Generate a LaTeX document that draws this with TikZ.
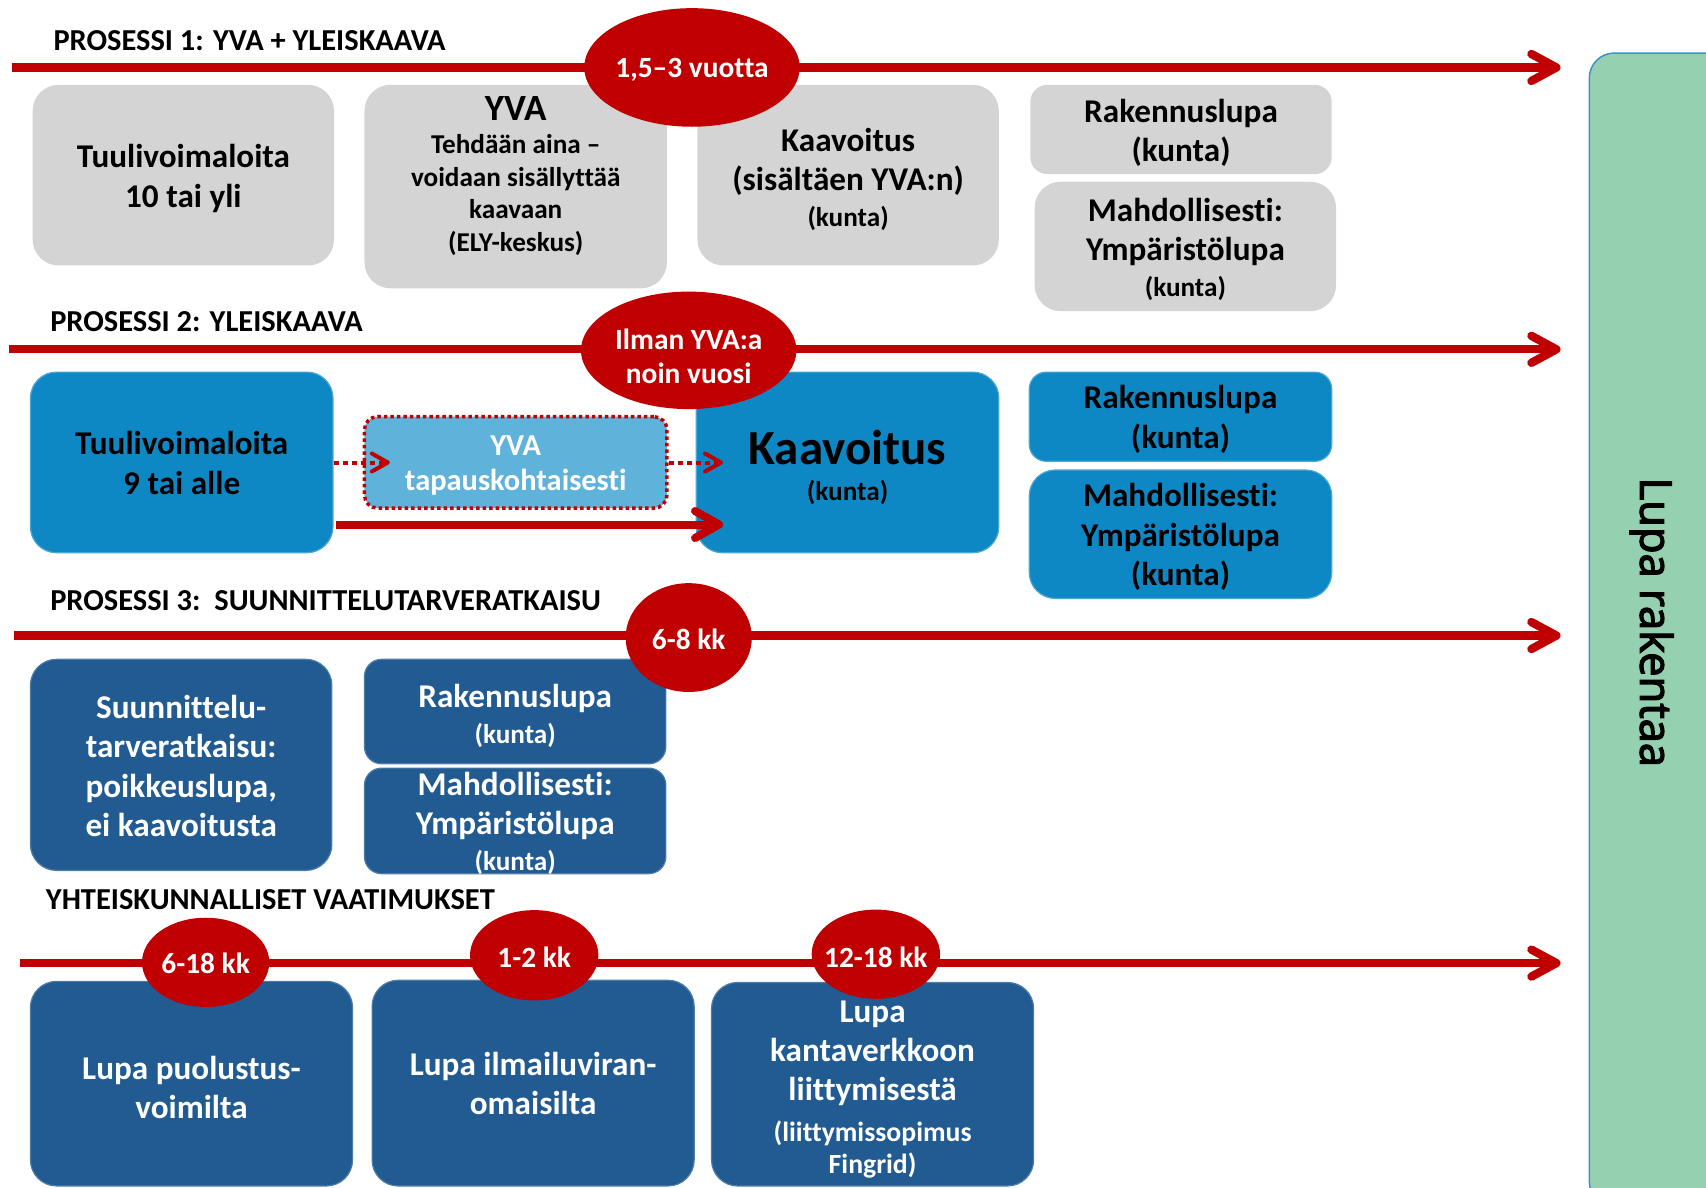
\documentclass[tikz,border=0pt]{standalone}
\usepackage{fontspec}
\setmainfont{Carlito}[Ligatures={NoCommon,NoRare,NoContextual}]
\newfontfamily\lupafont{Open Sans}[FakeBold=3]
\usetikzlibrary{arrows.meta,shapes.geometric}
\definecolor{myred}{HTML}{C00000}
\definecolor{mygray}{HTML}{D4D4D4}
\definecolor{mblue}{HTML}{0D88C4}
\definecolor{lblue}{HTML}{5FB3DB}
\definecolor{dblue}{HTML}{215B92}
\definecolor{mygreen}{HTML}{95D1B0}
\definecolor{gborder}{HTML}{3D93C6}
\newcommand\fsz[2]{\fontsize{#1}{#2}\selectfont}
\tikzset{
  anybox/.style={rectangle, rounded corners=26pt, inner sep=0pt},
  graybox/.style={anybox, fill=mygray},
  mbox/.style={anybox, fill=mblue, draw=mblue!75!white, line width=1.2pt},
  dbox/.style={anybox, fill=dblue, draw=dblue!80!white, line width=1.2pt},
  smallr/.style={rounded corners=17pt},
  txt/.style={align=center, inner sep=0pt, font=\bfseries\fsz{30.5}{36}},
  wtxt/.style={txt, text=white},
  redell/.style={ellipse, fill=myred, inner sep=0pt},
  elltxt/.style={align=center, inner sep=0pt, text=white, font=\bfseries\fsz{27}{32}},
  title/.style={anchor=base west, inner sep=0pt, font=\bfseries\fsz{28}{32}},
  timeline/.style={draw=myred, line width=8.3pt,
    -{Straight Barb[length=25pt,width=27pt,round]}},
  dotarrow/.style={draw=myred, line width=4pt, dash pattern=on 5pt off 4pt,
    -{Straight Barb[length=16pt,width=18pt,round]}},
  solidarrow/.style={draw=myred, line width=8pt,
    -{Straight Barb[length=24pt,width=27pt,round]}},
}
\begin{document}
\begin{tikzpicture}[x=1pt,y=-1pt,scale=1.088,every node/.style={transform shape}]
\useasboundingbox (0,0) rectangle (1568,1091);
\clip (0,0) rectangle (1568,1091);

% green final box
\node[rectangle, rounded corners=25pt, fill=mygreen, draw=gborder, line width=1.5pt,
  minimum width=220, minimum height=1060, anchor=north west, inner sep=0pt] (green) at (1460,48) {};
\node[rotate=-90, font=\lupafont\fsz{40}{48}, inner sep=0pt] (lupa) at (1518,572) {Lupa rakentaa};

% timelines
\coordinate (l1s) at (11,62);   \coordinate (l1e) at (1434,62);
\coordinate (l2s) at (8,321);   \coordinate (l2e) at (1434,321);
\coordinate (l3s) at (13,584);  \coordinate (l3e) at (1434,584);
\coordinate (l4s) at (18,885);  \coordinate (l4e) at (1434,885);
\draw[timeline] (l1s) -- (l1e);
\draw[timeline] (l2s) -- (l2e);
\draw[timeline] (l3s) -- (l3e);
\draw[timeline] (l4s) -- (l4e);

% titles
\node[title] (t1) at (49,46) {PROSESSI 1: YVA + YLEISKAAVA};
\node[title] (t2) at (46,305) {PROSESSI 2: YLEISKAAVA};
\node[title] (t3) at (46,561) {PROSESSI 3:\ \ SUUNNITTELUTARVERATKAISU};
\node[title] (t4) at (42,836) {YHTEISKUNNALLISET VAATIMUKSET};

% row 1
\node[graybox, minimum width=277, minimum height=166] (b11) at (168.5,161) {};
\node[txt] (b11t) at (168.5,164) {Tuulivoimaloita\\10 tai yli};
\node[graybox, minimum width=278, minimum height=187] (b12) at (474,171.5) {};
\node[txt, font=\bfseries\fsz{25}{30}] (b12t) at (474,162)
  {{\fsz{34}{38}YVA}\\Tehdään aina –\\voidaan sisällyttää\\kaavaan\\(ELY-keskus)};
\node[graybox, minimum width=277, minimum height=166] (b13) at (779.5,161) {};
\node[txt] (b13t) at (779.5,165)
  {Kaavoitus\\(sisältäen YVA:n)\\[-3pt]{\fsz{25}{30}(kunta)}};
\node[graybox, smallr, minimum width=277, minimum height=82] (b14) at (1085.5,119) {};
\node[txt] (b14t) at (1085.5,122) {Rakennuslupa\\(kunta)};
\node[graybox, minimum width=277, minimum height=119] (b15) at (1089.5,226.5) {};
\node[txt] (b15t) at (1089.5,229)
  {Mahdollisesti:\\Ympäristölupa\\[-3pt]{\fsz{25}{30}(kunta)}};
\node[redell, minimum width=198, minimum height=109] (e1) at (636,62) {};
\node[elltxt] (e1t) at (636,64) {1,5–3 vuotta};

% row 2
\node[mbox, minimum width=278, minimum height=166] (b21) at (167,425) {};
\node[txt] (b21t) at (167,425.5) {Tuulivoimaloita\\9 tai alle};
\node[rectangle, rounded corners=13pt, fill=lblue, draw=myred, line width=3.5pt,
  dash pattern=on 3.5pt off 3pt, minimum width=278, minimum height=84, inner sep=0pt] (yva) at (474,425) {};
\node[txt, text=white, font=\bfseries\fsz{28}{32}] (yvat) at (474,428) {YVA\\tapauskohtaisesti};
\node[mbox, minimum width=278, minimum height=166] (b23) at (779,425) {};
\node[txt] (b23t) at (779,429.5) {{\fsz{45}{44}Kaavoitus}\\[-3pt]{\fsz{25}{30}(kunta)}};
\node[mbox, smallr, minimum width=278, minimum height=82] (b24) at (1085,383) {};
\node[txt] (b24t) at (1085,385.5) {Rakennuslupa\\(kunta)};
\node[mbox, minimum width=278, minimum height=118] (b25) at (1085,491) {};
\node[txt] (b25t) at (1085,493.5) {Mahdollisesti:\\Ympäristölupa\\(kunta)};
\node[redell, minimum width=198, minimum height=108] (e2) at (633,322) {};
\node[elltxt] (e2t) at (633,327.5) {Ilman YVA:a\\noin vuosi};
\draw[dotarrow] (b21.east) -- ([xshift=25pt]yva.west);
\draw[dotarrow] (yva.east) -- ([xshift=25pt]b23.west);
\draw[solidarrow] ([yshift=-57pt,xshift=2pt]b21.east) -- ([yshift=-57pt,xshift=25pt]b23.west);

% row 3
\node[dbox, minimum width=277, minimum height=194] (b31) at (166.5,703) {};
\node[wtxt] (b31t) at (166.5,704) {Suunnittelu-\\tarveratkaisu:\\poikkeuslupa,\\ei kaavoitusta};
\node[dbox, smallr, minimum width=277, minimum height=96] (b32) at (473.5,654) {};
\node[wtxt] (b32t) at (473.5,658) {Rakennuslupa\\[-3pt]{\fsz{25}{30}(kunta)}};
\node[dbox, smallr, minimum width=277, minimum height=97] (b33) at (473.5,754.5) {};
\node[wtxt] (b33t) at (473.5,756.5) {Mahdollisesti:\\Ympäristölupa\\[-3pt]{\fsz{25}{30}(kunta)}};
\node[redell, minimum width=116, minimum height=100] (e3) at (633,586) {};
\node[elltxt] (e3t) at (633,588) {6-8 kk};

% row 4
\node[dbox, minimum width=296, minimum height=188] (b41) at (176,996) {};
\node[wtxt] (b41t) at (176,999.5) {Lupa puolustus-\\voimilta};
\node[dbox, minimum width=296, minimum height=189] (b42) at (490,995.5) {};
\node[wtxt] (b42t) at (490,995.5) {Lupa ilmailuviran-\\omaisilta};
\node[dbox, minimum width=296, minimum height=187] (b43) at (802,996.5) {};
\node[wtxt] (b43t) at (802,1001.5)
  {Lupa\\kantaverkkoon\\liittymisestä\\[1pt]{\fsz{25.5}{30}(liittymissopimus}\\[-6pt]{\fsz{25.5}{30}Fingrid)}};
\node[redell, minimum width=117, minimum height=82] (e41) at (189,884.5) {};
\node[elltxt] (e41t) at (189,885) {6-18 kk};
\node[redell, minimum width=118, minimum height=83] (e42) at (491,878) {};
\node[elltxt] (e42t) at (491,880) {1-2 kk};
\node[redell, minimum width=118, minimum height=82] (e43) at (805,877) {};
\node[elltxt] (e43t) at (805,880) {12-18 kk};
\end{tikzpicture}
\end{document}
